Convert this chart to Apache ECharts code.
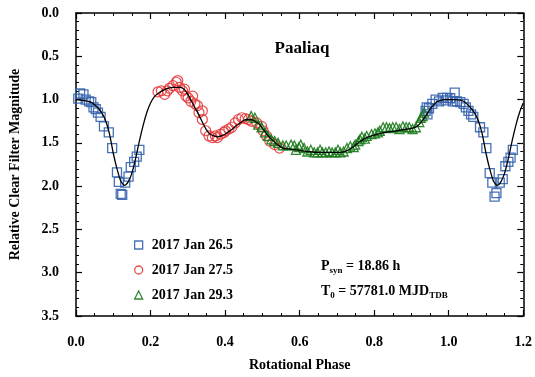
<!DOCTYPE html>
<html>
<head>
<meta charset="utf-8">
<script src="https://cdn.jsdelivr.net/npm/echarts@6/dist/echarts.min.js"></script>
<style>
  html, body { margin: 0; padding: 0; background: #fff; }
  #chart { width: 535px; height: 377px; }
</style>
</head>
<body>
<div id="chart"></div>
<script>
// 2017 Jan 26.5 (squares)
const bluePhase = [0.006, 0.011, 0.020, 0.026, 0.035, 0.041, 0.047, 0.053, 0.059, 0.066, 0.075, 0.088, 0.097, 0.110, 0.115, 0.120, 0.124, 0.132, 0.141, 0.147, 0.156, 0.163, 0.170,
  0.938, 0.941, 0.943, 0.947, 0.956, 0.965, 0.974, 0.984, 0.993, 0.996, 1.004, 1.011, 1.016, 1.022, 1.031, 1.040, 1.046, 1.053, 1.060, 1.066, 1.084, 1.093, 1.101, 1.110, 1.117, 1.123, 1.128, 1.137, 1.145, 1.152, 1.160, 1.166, 1.172];
const blueMag = [0.99, 0.93, 0.94, 1.00, 1.02, 1.03, 1.09, 1.11, 1.15, 1.20, 1.31, 1.38, 1.56, 1.84, 1.95, 2.09, 2.10, 1.96, 1.89, 1.78, 1.72, 1.66, 1.58,
  1.13, 1.09, 1.17, 1.10, 1.05, 1.00, 1.02, 0.98, 1.01, 0.98, 0.985, 1.02, 0.92, 1.02, 1.03, 1.05, 1.09, 1.13, 1.17, 1.20, 1.32, 1.38, 1.56, 1.85, 1.96, 2.12, 2.08, 1.96, 1.92, 1.77, 1.72, 1.67, 1.58];

// 2017 Jan 27.5 (circles)
const redPhase = [0.220, 0.229, 0.238, 0.245, 0.251, 0.260, 0.269, 0.273, 0.278, 0.286, 0.291, 0.295, 0.301, 0.308, 0.313, 0.319, 0.326, 0.330, 0.339, 0.339, 0.348, 0.357, 0.366, 0.374, 0.379, 0.388, 0.397, 0.401, 0.410, 0.418, 0.427, 0.436, 0.445, 0.454, 0.463, 0.471, 0.485, 0.498, 0.502, 0.511, 0.520, 0.533, 0.546];
const redMag = [0.91, 0.90, 0.94, 0.90, 0.87, 0.84, 0.80, 0.78, 0.86, 0.90, 0.88, 0.96, 0.98, 1.02, 0.96, 1.05, 1.07, 1.15, 1.13, 1.23, 1.36, 1.42, 1.44, 1.42, 1.44, 1.40, 1.38, 1.36, 1.34, 1.32, 1.27, 1.23, 1.21, 1.22, 1.23, 1.25, 1.27, 1.31, 1.36, 1.42, 1.48, 1.52, 1.56];

// 2017 Jan 29.3 (triangles)
const greenPhase = [0.470, 0.480, 0.489, 0.498, 0.507, 0.515, 0.524, 0.533, 0.542, 0.555, 0.564, 0.577, 0.586, 0.590, 0.598, 0.603, 0.612, 0.621, 0.630, 0.639, 0.648, 0.655, 0.661, 0.670, 0.679, 0.687, 0.696, 0.703, 0.709, 0.718, 0.727, 0.736, 0.745, 0.749, 0.758, 0.762, 0.767, 0.775, 0.780, 0.793, 0.802, 0.810, 0.815, 0.824, 0.833, 0.841, 0.850, 0.859, 0.868, 0.877, 0.886, 0.894, 0.903, 0.912, 0.921, 0.925, 0.930, 0.934];
const greenMag = [1.19, 1.21, 1.29, 1.32, 1.38, 1.42, 1.46, 1.48, 1.50, 1.53, 1.53, 1.52, 1.53, 1.58, 1.55, 1.52, 1.56, 1.60, 1.58, 1.61, 1.61, 1.58, 1.61, 1.61, 1.60, 1.61, 1.61, 1.58, 1.61, 1.60, 1.56, 1.54, 1.55, 1.52, 1.48, 1.46, 1.43, 1.45, 1.42, 1.40, 1.39, 1.38, 1.36, 1.32, 1.32, 1.33, 1.32, 1.32, 1.34, 1.31, 1.32, 1.32, 1.34, 1.32, 1.26, 1.21, 1.19, 1.15];

// fitted light curve
const fitPhase = [0.000, 0.020, 0.040, 0.060, 0.070, 0.080, 0.090, 0.100, 0.110, 0.120, 0.130, 0.140, 0.150, 0.160, 0.170, 0.180, 0.190, 0.200, 0.210, 0.220, 0.240, 0.260, 0.280, 0.290, 0.300, 0.310, 0.320, 0.330, 0.340, 0.350, 0.360, 0.370, 0.380, 0.390, 0.400, 0.410, 0.420, 0.430, 0.440, 0.450, 0.460, 0.470, 0.480, 0.490, 0.500, 0.510, 0.520, 0.530, 0.540, 0.555, 0.570, 0.590, 0.620, 0.660, 0.700, 0.720, 0.740, 0.760, 0.780, 0.800, 0.830, 0.860, 0.890, 0.910, 0.920, 0.930, 0.940, 0.950, 0.960, 0.970, 0.990, 1.020, 1.040, 1.060, 1.070, 1.080, 1.090, 1.100, 1.110, 1.120, 1.130, 1.140, 1.150, 1.160, 1.170, 1.180, 1.190, 1.200];
const fitMag = [1.00, 1.01, 1.03, 1.10, 1.16, 1.25, 1.40, 1.62, 1.80, 1.94, 1.99, 1.95, 1.85, 1.68, 1.48, 1.30, 1.15, 1.04, 0.97, 0.93, 0.88, 0.86, 0.86, 0.88, 0.94, 1.02, 1.10, 1.18, 1.27, 1.35, 1.40, 1.42, 1.43, 1.42, 1.40, 1.37, 1.34, 1.30, 1.27, 1.24, 1.23, 1.23, 1.25, 1.28, 1.33, 1.39, 1.44, 1.48, 1.52, 1.56, 1.57, 1.58, 1.60, 1.61, 1.61, 1.60, 1.56, 1.49, 1.44, 1.41, 1.38, 1.36, 1.34, 1.32, 1.29, 1.24, 1.18, 1.11, 1.06, 1.02, 1.00, 1.00, 1.02, 1.10, 1.16, 1.25, 1.40, 1.62, 1.80, 1.94, 1.99, 1.95, 1.85, 1.68, 1.48, 1.30, 1.15, 1.04];

const xTicks = ['0.0', '0.2', '0.4', '0.6', '0.8', '1.0', '1.2'];
const yTicks = ['0.0', '0.5', '1.0', '1.5', '2.0', '2.5', '3.0', '3.5'];

const FONT = 'Liberation Serif';
const BLUE = '#3462ad';
const RED = '#e33b3b';
const GREEN = '#1c7a1c';

function pairs(xs, ys) {
  return xs.map((x, i) => [x, ys[i]]);
}

function hollow(color) {
  return { color: 'rgba(0,0,0,0)', borderColor: color, borderWidth: 1.3 };
}

let chart = echarts.init(document.getElementById('chart'));

const frameAxis = {
  axisLine: { show: true, onZero: false, lineStyle: { color: '#000', width: 1.5 } },
  axisTick: { show: true, inside: true, length: 6, lineStyle: { color: '#000', width: 1.2 } },
  minorTick: { show: true, length: 3, lineStyle: { color: '#000', width: 1 } },
  splitLine: { show: false },
  minorSplitLine: { show: false }
};

let option = {
  backgroundColor: '#fff',
  animation: false,
  grid: { left: 70, right: 10, top: 13, bottom: 61 },
  title: {
    text: 'Paaliaq',
    left: 297, top: 35, textAlign: 'center',
    textStyle: { fontFamily: FONT, fontWeight: 'bold', fontSize: 17, color: '#000' }
  },
  legend: {
    orient: 'vertical',
    left: 129, top: 233,
    itemWidth: 8, itemHeight: 8, itemGap: 11,
    textStyle: { fontFamily: FONT, fontWeight: 'bold', fontSize: 14, color: '#000', padding: [0, 0, 0, 4] },
    data: [
      { name: '2017 Jan 26.5', icon: 'rect', itemStyle: hollow(BLUE) },
      { name: '2017 Jan 27.5', icon: 'circle', itemStyle: hollow(RED) },
      { name: '2017 Jan 29.3', icon: 'triangle', itemStyle: hollow(GREEN) }
    ]
  },
  graphic: [
    {
      type: 'text', left: 321, top: 259,
      style: {
        text: '{a|P}{s|syn}{a| = 18.86 h}',
        rich: {
          a: { fontFamily: FONT, fontWeight: 'bold', fontSize: 14, fill: '#000', lineHeight: 18 },
          s: { fontFamily: FONT, fontWeight: 'bold', fontSize: 9, fill: '#000', lineHeight: 18, verticalAlign: 'bottom', padding: [6, 0, 0, 0] }
        }
      }
    },
    {
      type: 'text', left: 321, top: 284,
      style: {
        text: '{a|T}{s|0}{a| = 57781.0 MJD}{s|TDB}',
        rich: {
          a: { fontFamily: FONT, fontWeight: 'bold', fontSize: 14, fill: '#000', lineHeight: 18 },
          s: { fontFamily: FONT, fontWeight: 'bold', fontSize: 9, fill: '#000', lineHeight: 18, verticalAlign: 'bottom', padding: [6, 0, 0, 0] }
        }
      }
    }
  ],
  xAxis: [
    Object.assign({
      type: 'value', min: 0, max: 1.2, interval: 0.2, position: 'bottom',
      name: 'Rotational Phase', nameLocation: 'middle', nameGap: 42,
      nameTextStyle: { fontFamily: FONT, fontWeight: 'bold', fontSize: 14, color: '#000' },
      axisLabel: {
        margin: 19, fontFamily: FONT, fontWeight: 'bold', fontSize: 14, color: '#000',
        formatter: (v) => xTicks[Math.round(v / 0.2)]
      }
    }, frameAxis, { minorTick: Object.assign({}, frameAxis.minorTick, { splitNumber: 4 }) }),
    Object.assign({
      type: 'value', min: 0, max: 1.2, interval: 0.2, position: 'top',
      axisLabel: { show: false }
    }, frameAxis, { minorTick: Object.assign({}, frameAxis.minorTick, { splitNumber: 4 }) })
  ],
  yAxis: [
    Object.assign({
      type: 'value', min: 0, max: 3.5, interval: 0.5, inverse: true, position: 'left',
      name: 'Relative Clear Filter Magnitude', nameLocation: 'middle', nameGap: 54,
      nameTextStyle: { fontFamily: FONT, fontWeight: 'bold', fontSize: 14, color: '#000' },
      axisLabel: {
        margin: 17, fontFamily: FONT, fontWeight: 'bold', fontSize: 14, color: '#000',
        formatter: (v) => yTicks[Math.round(v / 0.5)]
      }
    }, frameAxis, { minorTick: Object.assign({}, frameAxis.minorTick, { splitNumber: 5 }) }),
    Object.assign({
      type: 'value', min: 0, max: 3.5, interval: 0.5, inverse: true, position: 'right',
      axisLabel: { show: false }
    }, frameAxis, { minorTick: Object.assign({}, frameAxis.minorTick, { splitNumber: 5 }) })
  ],
  series: [
    {
      name: 'fit', type: 'line', xAxisIndex: 0, yAxisIndex: 0,
      data: pairs(fitPhase, fitMag),
      smooth: 0.25, showSymbol: false, symbol: 'none',
      lineStyle: { color: '#000', width: 1.3 }, z: 3
    },
    {
      name: '2017 Jan 26.5', type: 'scatter', symbol: 'rect', symbolSize: 9,
      data: pairs(bluePhase, blueMag),
      itemStyle: Object.assign(hollow(BLUE), { opacity: 0.9 }), z: 2
    },
    {
      name: '2017 Jan 27.5', type: 'scatter', symbol: 'circle', symbolSize: 10,
      data: pairs(redPhase, redMag),
      itemStyle: Object.assign(hollow(RED), { borderWidth: 1.2, opacity: 0.9 }), z: 2
    },
    {
      name: '2017 Jan 29.3', type: 'scatter', symbol: 'triangle', symbolSize: 9,
      data: pairs(greenPhase, greenMag),
      itemStyle: Object.assign(hollow(GREEN), { opacity: 0.9 }), z: 2
    }
  ]
};

chart.setOption(option);
</script>
</body>
</html>
